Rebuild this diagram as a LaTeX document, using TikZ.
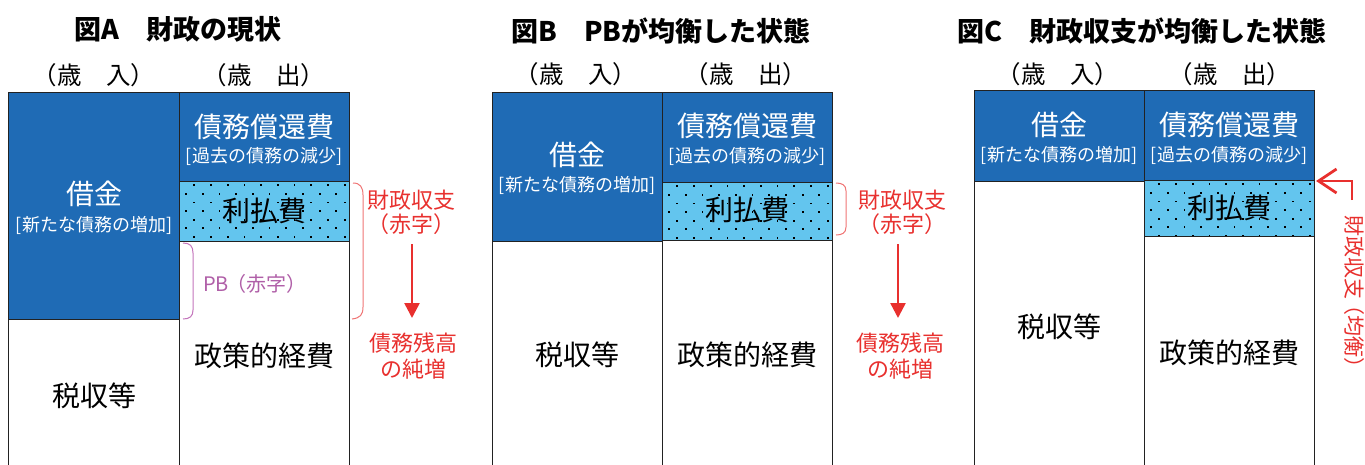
\documentclass[tikz,border=0pt]{standalone}
\usepackage{fontspec}
\setmainfont{Noto Sans CJK JP}
\usetikzlibrary{arrows.meta}
\definecolor{dblue}{HTML}{1F6BB5}
\definecolor{lblue}{HTML}{63C5EE}
\definecolor{myred}{HTML}{E8302E}
\definecolor{brred}{HTML}{EF7474}
\definecolor{mypurple}{HTML}{B05FA8}
\definecolor{brpurple}{HTML}{C475BC}
\definecolor{edge}{HTML}{222222}
\newcommand\dotgrid[4]{%
  \begin{scope}
    \clip (#1+0.6,#2+0.6) rectangle (#3-0.6,#4-0.6);
    \foreach \r in {0,...,8}{
      \foreach \c in {-1,...,11}{
        \pgfmathsetmacro\xx{#1+7+8.35*(1-mod(\r,2))+\c*16.7}
        \pgfmathsetmacro\yy{#2+4.3+\r*8.6}
        \fill[black] (\xx-0.9,\yy-0.9) rectangle (\xx+0.9,\yy+0.9);
      }}
  \end{scope}}
\begin{document}
\begin{tikzpicture}[x=1pt,y=-1pt,
  box/.style={draw=edge, line width=1.1pt, inner sep=0pt, anchor=north west, minimum width=170pt},
  loan/.style={box, fill=dblue},
  plain/.style={box, fill=white},
  intbox/.style={box, fill=lblue},
  title/.style={font=\bfseries\fontsize{27}{30}\selectfont, inner sep=0pt},
  head/.style={font=\fontsize{24.5}{28}\selectfont, inner sep=0pt},
  big/.style={font=\fontsize{28}{30}\selectfont, inner sep=0pt},
  sub/.style={font=\fontsize{18}{20}\selectfont, inner sep=0pt},
  note/.style={text=myred, font=\fontsize{22}{24}\selectfont, inner sep=0pt},
  pbnote/.style={text=mypurple, font=\fontsize{20}{22}\selectfont, inner sep=0pt},
  redarrow/.style={draw=myred, line width=2.5pt, -{Triangle[length=15pt,width=15pt]}},
  bendarrow/.style={draw=myred, line width=2.8pt, -{Straight Barb[length=18pt,width=24pt,line width=2.8pt]}},
  brace/.style={draw=brred, line width=1pt},
  pbbrace/.style={draw=brpurple, line width=1pt},
]
\useasboundingbox (0,0) rectangle (1365,464);
\clip (0,0) rectangle (1365,464);

% ---------------- Panel A ----------------
\node[loan, minimum width=171pt, minimum height=227pt] (Aloan) at (8,92) {};
\node[plain, minimum width=171pt, minimum height=160pt] (Atax) at (8,319) {};
\node[loan, minimum height=89pt] (Arepay) at (179,92) {};
\node[plain, minimum height=240pt] (Apol) at (179,241) {};
\node[intbox, minimum height=60pt] (Aint) at (179,181) {};
\dotgrid{179}{181}{349}{241}

\node[title] (Atitle) at (178,29) {図A　財政の現状};
\node[head] (Ain) at (94,75) {（歳　入）};
\node[head] (Aout) at (264,75) {（歳　出）};
\node[big, text=white] (AloanT) at (94,194) {借金};
\node[sub, text=white] (AloanS) at (94,225) {[新たな債務の増加]};
\node[big, text=white] (ArepayT) at (264,127) {債務償還費};
\node[sub, text=white] (ArepayS) at (264,156) {[過去の債務の減少]};
\node[big] (AintT) at (264,211) {利払費};
\node[big] (ApolT) at (264,356) {政策的経費};
\node[big] (AtaxT) at (94,396) {税収等};

\draw[pbbrace] (183,243) .. controls (190,243) and (193,246) .. (193,253) -- (193,310) .. controls (193,316) and (190,319) .. (183,319);
\node[pbnote, anchor=west] (Apb) at (203,284) {PB\kern-0.12em（赤字）};

\draw[brace] (353,183) .. controls (360,183) and (363,187) .. (363,195) -- (363,307) .. controls (363,315) and (360,318) .. (352,319);
\node[note] (AdefA) at (411,200) {財政収支};
\node[note] (AdefB) at (411,224) {（赤字）};
\node[note] (AdebtA) at (413,343) {債務残高};
\node[note] (AdebtB) at (413,369) {の純増};
\coordinate (Aas) at (412,244);
\coordinate (Aae) at (412,318);
\draw[redarrow] (Aas) -- (Aae);

% ---------------- Panel B ----------------
\node[loan, minimum height=149pt] (Bloan) at (492,92) {};
\node[plain, minimum height=240pt] (Btax) at (492,241) {};
\node[loan, minimum height=90pt] (Brepay) at (662,92) {};
\node[plain, minimum height=240pt] (Bpol) at (662,240) {};
\node[intbox, minimum height=58pt] (Bint) at (662,182) {};
\dotgrid{662}{182}{832}{240}

\node[title] (Btitle) at (661,31) {図B　PBが均衡した状態};
\node[head] (Bin) at (576,74) {（歳　入）};
\node[head] (Bout) at (746,74) {（歳　出）};
\node[big, text=white] (BloanT) at (577,155) {借金};
\node[sub, text=white] (BloanS) at (577,185) {[新たな債務の増加]};
\node[big, text=white] (BrepayT) at (747,126) {債務償還費};
\node[sub, text=white] (BrepayS) at (747,156) {[過去の債務の減少]};
\node[big] (BintT) at (747,210) {利払費};
\node[big] (BpolT) at (747,355) {政策的経費};
\node[big] (BtaxT) at (577,355) {税収等};

\draw[brace] (836,183) .. controls (842,183) and (846,185) .. (846,191) -- (846,227) .. controls (846,233) and (842,235) .. (836,235);
\node[note] (BdefA) at (902,200) {財政収支};
\node[note] (BdefB) at (902,224) {（赤字）};
\node[note] (BdebtA) at (900,343) {債務残高};
\node[note] (BdebtB) at (900,369) {の純増};
\coordinate (Bas) at (898,244);
\coordinate (Bae) at (898,318);
\draw[redarrow] (Bas) -- (Bae);

% ---------------- Panel C ----------------
\node[loan, minimum height=91pt] (Cloan) at (974,90) {};
\node[plain, minimum height=290pt] (Ctax) at (974,181) {};
\node[loan, minimum height=90pt] (Crepay) at (1144,90) {};
\node[plain, minimum height=240pt] (Cpol) at (1144,236) {};
\node[intbox, minimum height=56pt] (Cint) at (1144,180) {};
\dotgrid{1144}{180}{1314}{236}

\node[title] (Ctitle) at (1142,31) {図C　財政収支が均衡した状態};
\node[head] (Cin) at (1058,74) {（歳　入）};
\node[head] (Cout) at (1230,74) {（歳　出）};
\node[big, text=white] (CloanT) at (1059,125) {借金};
\node[sub, text=white] (CloanS) at (1059,155) {[新たな債務の増加]};
\node[big, text=white] (CrepayT) at (1229,125) {債務償還費};
\node[sub, text=white] (CrepayS) at (1229,155) {[過去の債務の減少]};
\node[big] (CintT) at (1229,208) {利払費};
\node[big] (CpolT) at (1229,353) {政策的経費};
\node[big] (CtaxT) at (1059,327) {税収等};

\coordinate (Cfrom) at (1352,200);
\coordinate (Cto) at (1316,181);
\draw[bendarrow] (Cfrom) |- (Cto);
\node[note, rotate=-90, font=\fontsize{21}{23}\selectfont] (Cbal) at (1354,297) {財政収支\kern-0.25em（均衡）};
\end{tikzpicture}
\end{document}
